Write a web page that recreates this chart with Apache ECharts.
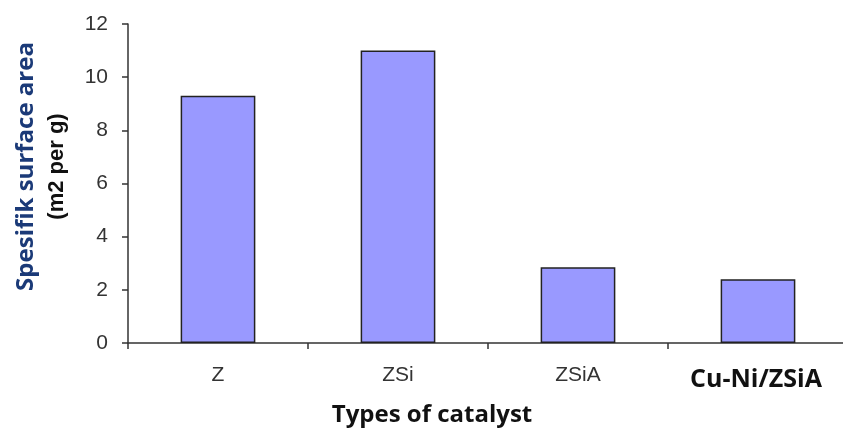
<!DOCTYPE html>
<html>
<head>
<meta charset="utf-8">
<script src="https://cdn.jsdelivr.net/npm/echarts@6/dist/echarts.min.js"></script>
<style>
  html, body { margin: 0; padding: 0; background: #fff; }
  #chart { width: 843px; height: 430px; }
</style>
</head>
<body>
<div id="chart"></div>
<script>
// data
var catalysts = ['Z', 'ZSi', 'ZSiA', 'Cu-Ni/ZSiA'];
var surfaceArea = [9.3, 11.0, 2.85, 2.4];
var yTicks = { min: 0, max: 12, step: 2 };

(function () {
  var ink = '#333333';
  var barFill = '#9999ff';

  var chart = echarts.init(document.getElementById('chart'), null, { renderer: 'canvas' });

  // last category label is set in a bigger bold face in the original
  var xData = catalysts.map(function (c, i) {
    if (i === catalysts.length - 1) {
      return {
        value: c,
        textStyle: { fontFamily: 'Open Sans', fontWeight: 'bold', fontSize: 25, color: '#111', padding: [2, 4, 0, 0] }
      };
    }
    return c;
  });

  chart.setOption({
    animation: false,
    backgroundColor: '#fff',
    grid: { left: 128, top: 24, width: 720, bottom: 87, outerBoundsMode: 'none', containLabel: false },
    xAxis: {
      type: 'category',
      data: xData,
      name: 'Types of catalyst',
      nameLocation: 'middle',
      nameGap: 60,
      nameTextStyle: { fontFamily: 'Open Sans', fontWeight: 'bold', fontSize: 24, color: '#111', padding: [0, 112, 0, 0] },
      axisLine: { lineStyle: { color: ink, width: 1.5 } },
      axisTick: { show: true, length: 6, lineStyle: { color: ink, width: 1.5 } },
      axisLabel: { color: ink, fontFamily: 'Liberation Sans', fontSize: 21, margin: 22, interval: 0 }
    },
    yAxis: {
      type: 'value',
      min: yTicks.min,
      max: yTicks.max,
      interval: yTicks.step,
      name: '{a|Spesifik surface area}\n{b|(m2 per g)}',
      nameLocation: 'middle',
      nameRotate: 90,
      nameGap: 58,
      nameTextStyle: {
        padding: [0, 0, 0, 34],
        rich: {
          a: { fontFamily: 'Open Sans', fontWeight: 'bold', fontSize: 24, color: '#1b3a78', lineHeight: 36 },
          b: { fontFamily: 'Liberation Sans', fontWeight: 'bold', fontSize: 22, color: '#111', lineHeight: 26 }
        }
      },
      axisLine: { show: true, lineStyle: { color: ink, width: 1.5 } },
      axisTick: { show: true, length: 6, lineStyle: { color: ink, width: 1.5 } },
      axisLabel: { color: ink, fontFamily: 'Liberation Sans', fontSize: 21, margin: 20 },
      splitLine: { show: false }
    },
    series: [
      {
        type: 'bar',
        data: surfaceArea,
        barWidth: '41.5%',
        itemStyle: { color: barFill, borderColor: '#222', borderWidth: 1.5 }
      }
    ]
  });
  window.addEventListener('resize', function () { chart.resize(); });
})();
</script>
</body>
</html>
